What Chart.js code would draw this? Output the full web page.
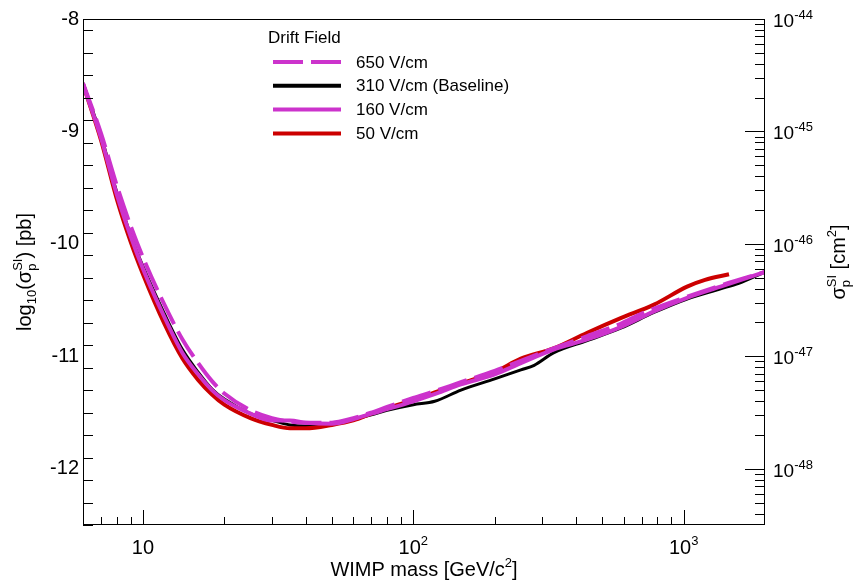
<!DOCTYPE html>
<html lang="en">
<head>
    <meta charset="UTF-8">
    <title>Drift field sensitivity</title>
    <style>
        body {
    margin: 0;
    padding: 0;
    background-color: #ffffff;
}

.chart {
    width: 853px;
    height: 582px;
}
    </style>
</head>
<body>
    <div class="chart">
        <canvas id="driftChart" width="853" height="582"></canvas>
    </div>
    <script src="https://cdn.jsdelivr.net/npm/chart.js"></script>
    <script>
// WIMP mass [GeV/c^2] and log10(sigma_p^SI / pb)
const mass650 = [6, 7, 8, 9, 10, 12, 14, 16, 18, 20, 25, 30, 35, 40, 50, 60, 70, 80, 100, 120, 150, 200, 250, 330, 440, 585, 700, 1030, 1370, 2000];
const sigma650 = [-8.57, -9.02, -9.48, -9.84, -10.12, -10.54, -10.85, -11.06, -11.22, -11.33, -11.48, -11.55, -11.58, -11.59, -11.59, -11.55, -11.50, -11.45, -11.37, -11.31, -11.23, -11.13, -11.04, -10.93, -10.82, -10.71, -10.62, -10.47, -10.37, -10.25];

const mass310 = [6, 7, 8, 9, 10, 12, 14, 16, 18, 20, 25, 30, 35, 40, 50, 60, 70, 80, 100, 120, 150, 200, 250, 280, 330, 440, 585, 777, 1030, 1370, 1600, 2000];
const sigma310 = [-8.57, -9.04, -9.54, -9.92, -10.20, -10.62, -10.94, -11.14, -11.29, -11.38, -11.51, -11.57, -11.61, -11.62, -11.60, -11.56, -11.52, -11.48, -11.43, -11.40, -11.30, -11.20, -11.12, -11.08, -10.97, -10.86, -10.75, -10.61, -10.49, -10.40, -10.35, -10.25];

const mass160 = [6, 7, 8, 9, 10, 12, 14, 16, 18, 20, 25, 30, 35, 40, 50, 60, 70, 80, 100, 122, 150, 200, 250, 330, 440, 585, 777, 1030, 1370, 2000];
const sigma160 = [-8.58, -9.06, -9.56, -9.93, -10.22, -10.65, -10.97, -11.16, -11.30, -11.39, -11.51, -11.57, -11.57, -11.59, -11.60, -11.56, -11.51, -11.47, -11.40, -11.33, -11.25, -11.16, -11.06, -10.94, -10.85, -10.74, -10.60, -10.48, -10.38, -10.25];

const mass50 = [6, 7, 8, 9, 10, 12, 14, 16, 18, 20, 25, 30, 35, 40, 50, 60, 70, 80, 100, 120, 150, 200, 250, 330, 440, 585, 777, 1030, 1200, 1472];
const sigma50 = [-8.58, -9.08, -9.60, -9.98, -10.27, -10.71, -11.02, -11.21, -11.34, -11.43, -11.55, -11.61, -11.64, -11.64, -11.61, -11.57, -11.51, -11.46, -11.39, -11.32, -11.24, -11.14, -11.02, -10.93, -10.79, -10.66, -10.54, -10.38, -10.32, -10.27];

const seriesLabels = ['650 V/cm', '310 V/cm (Baseline)', '160 V/cm', '50 V/cm'];
const legendTitle = 'Drift Field';

// axis ticks
const yTicks = [-12, -11, -10, -9, -8];
const xTickValues = [10, 100, 1000];
const xTickLabels = [['10', ''], ['10', '2'], ['10', '3']];
const rightTickExponents = ['-44', '-45', '-46', '-47', '-48'];

const FONT = '"Liberation Sans", Arial, sans-serif';

function pairs(xs, ys) {
    return xs.map((m, i) => ({ x: m, y: ys[i] }));
}

// text with sub/superscripts: [text, size, dy, stackOnPrevious]
function richText(ctx, parts, x, y, align, rotate) {
    ctx.save();
    ctx.translate(x, y);
    if (rotate) ctx.rotate(-Math.PI / 2);
    ctx.textBaseline = 'alphabetic';
    ctx.textAlign = 'left';
    let total = 0, prevStart = 0, prevW = 0;
    const pos = [];
    parts.forEach(p => {
        ctx.font = p[1] + 'px ' + FONT;
        const w = ctx.measureText(p[0]).width;
        if (p[3]) {
            pos.push(prevStart);
            prevW = Math.max(prevW, w);
            total = prevStart + prevW;
        } else {
            pos.push(total);
            prevStart = total;
            prevW = w;
            total += w;
        }
    });
    const x0 = align === 'center' ? -total / 2 : (align === 'right' ? -total : 0);
    parts.forEach((p, i) => {
        ctx.font = p[1] + 'px ' + FONT;
        ctx.fillText(p[0], x0 + pos[i], p[2]);
    });
    ctx.restore();
}

const frameAndLabels = {
    id: 'frameAndLabels',
    afterDraw(chart) {
        const { ctx, chartArea: a, scales } = chart;
        const x = scales.x, y = scales.y;
        ctx.save();
        ctx.strokeStyle = '#000';
        ctx.fillStyle = '#000';
        ctx.lineWidth = 1;

        // frame
        ctx.strokeRect(Math.round(a.left) + 0.5, Math.round(a.top) + 0.5,
            Math.round(a.right - a.left) - 1, Math.round(a.bottom - a.top) - 1);

        ctx.beginPath();
        // left axis ticks, inward
        for (let i = -125; i <= -80; i += 2) {
            const py = Math.round(y.getPixelForValue(i / 10)) + 0.5;
            const len = i % 10 === 0 ? 20 : 10;
            ctx.moveTo(a.left, py);
            ctx.lineTo(a.left + len, py);
        }
        // right axis (log of cm^2), inward
        for (let n = -13; n <= -8; n++) {
            for (let k = 1; k <= 9; k++) {
                const v = n + Math.log10(k);
                if (v < -12.5 || v > -8) continue;
                const py = Math.round(y.getPixelForValue(v)) + 0.5;
                const len = k === 1 ? 20 : 10;
                ctx.moveTo(a.right, py);
                ctx.lineTo(a.right - len, py);
            }
        }
        // bottom axis, inward
        for (let d = 0; d <= 3; d++) {
            for (let k = 1; k <= 9; k++) {
                const m = k * Math.pow(10, d);
                if (m <= 6 || m >= 2000) continue;
                const px = Math.round(x.getPixelForValue(m)) + 0.5;
                const len = k === 1 ? 15 : 8;
                ctx.moveTo(px, a.bottom);
                ctx.lineTo(px, a.bottom - len);
            }
        }
        ctx.stroke();

        // x tick labels
        xTickValues.forEach((m, i) => {
            const parts = [[xTickLabels[i][0], 20, 0]];
            if (xTickLabels[i][1]) parts.push([xTickLabels[i][1], 13, -9]);
            richText(ctx, parts, x.getPixelForValue(m), a.bottom + 29, 'center', false);
        });

        // right tick labels
        yTicks.slice().reverse().forEach((v, i) => {
            richText(ctx, [['10', 19, 0], [rightTickExponents[i], 13, -8]],
                a.right + 8, y.getPixelForValue(v) + 8, 'left', false);
        });

        // axis titles
        richText(ctx, [['WIMP mass [GeV/c', 20, 0], ['2', 13, -9], [']', 20, 0]],
            (a.left + a.right) / 2, 576, 'center', false);
        richText(ctx, [['log', 20, 0], ['10', 13, 5], ['(\u03c3', 20, 0], ['p', 13, 5], ['SI', 13, -9, true], [') [pb]', 20, 0]],
            31, (a.top + a.bottom) / 2, 'center', true);
        richText(ctx, [['\u03c3', 20, 0], ['p', 13, 5], ['SI', 13, -9, true], [' [cm', 20, 0], ['2', 13, -9], [']', 20, 0]],
            845, 262, 'center', true);

        // legend
        ctx.font = '17px ' + FONT;
        ctx.textBaseline = 'alphabetic';
        ctx.fillText(legendTitle, 268, 43);
        ctx.textBaseline = 'middle';
        chart.data.datasets.forEach((ds, i) => {
            const ly = 62 + i * 23.8;
            ctx.save();
            ctx.strokeStyle = ds.borderColor;
            ctx.lineWidth = 4;
            ctx.setLineDash(ds.borderDash || []);
            ctx.beginPath();
            ctx.moveTo(273, ly);
            ctx.lineTo(341, ly);
            ctx.stroke();
            ctx.restore();
            ctx.fillText(ds.label, 356, ly + 1);
        });
        ctx.restore();
    }
};

document.addEventListener('DOMContentLoaded', function() {
    const ctx = document.getElementById('driftChart').getContext('2d');

    new Chart(ctx, {
        type: 'line',
        data: {
            datasets: [
                {
                    label: seriesLabels[0],
                    data: pairs(mass650, sigma650),
                    borderColor: '#cc33cc',
                    borderWidth: 4,
                    borderDash: [30, 8],
                    order: 1
                },
                {
                    label: seriesLabels[1],
                    data: pairs(mass310, sigma310),
                    borderColor: '#000000',
                    borderWidth: 3,
                    order: 3
                },
                {
                    label: seriesLabels[2],
                    data: pairs(mass160, sigma160),
                    borderColor: '#cc33cc',
                    borderWidth: 4,
                    order: 0
                },
                {
                    label: seriesLabels[3],
                    data: pairs(mass50, sigma50),
                    borderColor: '#cc0000',
                    borderWidth: 4,
                    order: 2
                }
            ]
        },
        options: {
            responsive: false,
            animation: false,
            layout: { padding: { top: 19, left: 0, right: 0, bottom: 0 } },
            elements: {
                point: { radius: 0 },
                line: { cubicInterpolationMode: 'monotone', fill: false }
            },
            plugins: {
                legend: { display: false },
                tooltip: { enabled: false }
            },
            scales: {
                x: {
                    type: 'logarithmic',
                    min: 6,
                    max: 2000,
                    grid: { display: false, drawTicks: false },
                    border: { display: false },
                    ticks: { display: false },
                    afterFit: function(scale) { scale.height = 57; }
                },
                y: {
                    type: 'linear',
                    position: 'left',
                    min: -12.5,
                    max: -8,
                    grid: { display: false, drawTicks: false },
                    border: { display: false },
                    ticks: {
                        padding: 4,
                        color: '#000',
                        font: { family: FONT, size: 20 },
                        callback: function(v) { return String(v); }
                    },
                    afterBuildTicks: function(scale) {
                        scale.ticks = yTicks.map(v => ({ value: v }));
                    },
                    afterFit: function(scale) { scale.width = 83; }
                },
                y2: {
                    type: 'linear',
                    position: 'right',
                    min: -12.5,
                    max: -8,
                    grid: { display: false, drawTicks: false },
                    border: { display: false },
                    ticks: { display: false },
                    afterFit: function(scale) { scale.width = 88; }
                }
            }
        },
        plugins: [frameAndLabels]
    });
});
    </script>
</body>
</html>
